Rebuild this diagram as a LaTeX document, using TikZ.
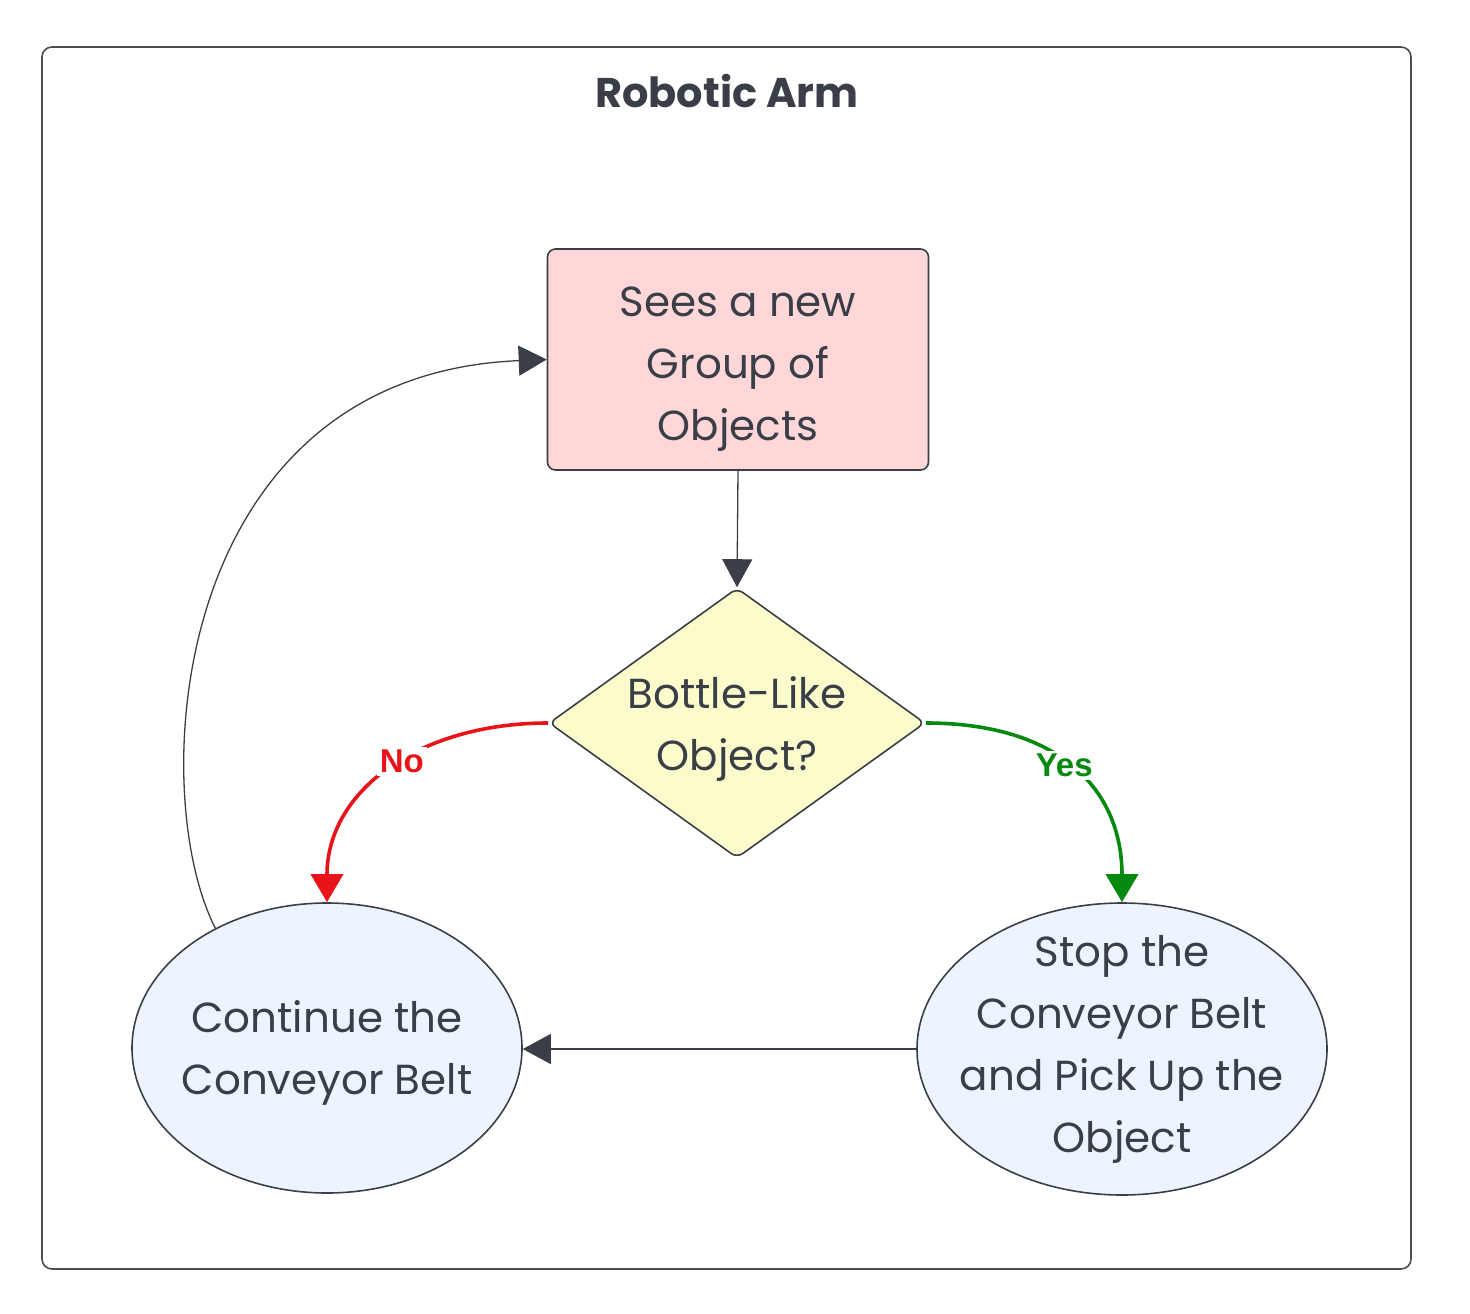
\documentclass[tikz,border=0pt]{standalone}
\usepackage{fontspec}
\setmainfont{Poppins}
\newfontfamily\labelfont{Liberation Sans}
\usetikzlibrary{shapes.geometric,arrows.meta}
\definecolor{ink}{HTML}{3A3F47}
\definecolor{framec}{HTML}{4A4D52}
\definecolor{pinkf}{HTML}{FFD7D9}
\definecolor{yellowf}{HTML}{FBFBCB}
\definecolor{bluef}{HTML}{EDF4FF}
\definecolor{nored}{HTML}{E8141A}
\definecolor{yesgreen}{HTML}{06890F}
\tikzset{
  shapeline/.style={draw=ink, line width=1.6pt},
  bodytext/.style={text=ink, align=center, font=\fontsize{42}{62}\selectfont},
  conn/.style={draw=ink, line width=1.3pt, -{Triangle[length=28pt,width=30pt]}},
  colconn/.style={line width=3.6pt, -{Triangle[length=28pt,width=32pt]}},
  edgelabel/.style={fill=white, inner sep=3pt, font=\labelfont\bfseries\fontsize{33}{33}\selectfont}
}
\begin{document}
\begin{tikzpicture}[x=1pt,y=-1pt]
\useasboundingbox (0,0) rectangle (1470,1314);
\draw[draw=framec, line width=1.6pt, rounded corners=10pt] (42,47) rectangle (1411,1269);
\node[text=ink, font=\bfseries\fontsize{41.5}{41.5}\selectfont] (title) at (727,91) {Robotic Arm};

\node[shapeline, fill=pinkf, rounded corners=8pt, minimum width=381pt, minimum height=221pt, inner sep=0pt] (rect) at (738,359.5) {};
\node[bodytext] (recttext) at (738,369) {Sees a new\\Group of\\Objects};

\node[shapeline, fill=yellowf, diamond, rounded corners=7pt, minimum width=376pt, minimum height=270pt, inner sep=0pt] (dia) at (737,723) {};
\node[bodytext] (diatext) at (737,729) {Bottle-Like\\Object?};

\node[shapeline, fill=bluef, ellipse, minimum width=390pt, minimum height=290pt, inner sep=0pt] (lell) at (327,1048) {};
\node[bodytext] (lelltext) at (327,1053) {Continue the\\Conveyor Belt};

\node[shapeline, fill=bluef, ellipse, minimum width=410pt, minimum height=292pt, inner sep=0pt] (rell) at (1122,1049) {};
\node[bodytext] (relltext) at (1122,1049) {Stop the\\Conveyor Belt\\and Pick Up the\\Object};

\draw[conn] (rect.south) -- (dia.north);
\draw[colconn, draw=nored] (dia.west) .. controls (420,723) and (327,790) .. (lell.north)
  node[pos=0.45, edgelabel, text=nored] (nolab) {No};
\draw[colconn, draw=yesgreen] (dia.east) .. controls (1060,723) and (1122,790) .. (rell.north)
  node[pos=0.47, edgelabel, text=yesgreen, xshift=-4pt] (yeslab) {Yes};
\draw[conn] (rell.west) -- (rell.west -| lell.east);
\draw[conn] (lell.133) .. controls (145,790) and (170,375) .. (rect.west);
\end{tikzpicture}
\end{document}
